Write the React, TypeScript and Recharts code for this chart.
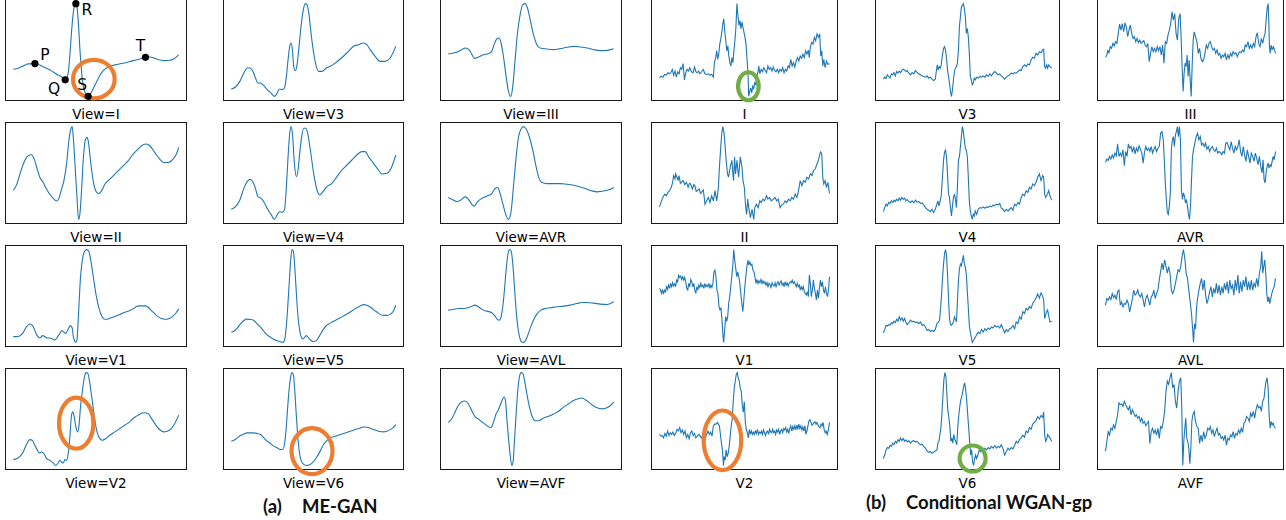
import React from "react";
import { LineChart, Line, XAxis, YAxis, ReferenceDot } from "recharts";

// Each trace: flat list of (time, amplitude) readings, arbitrary units.
const megI = [40,-213, 55,-210, 70,-203, 85,-197, 105,-196, 115,-198, 125,-203, 140,-210, 155,-218, 170,-228, 185,-236, 196,-245, 200,-240, 205,-225, 210,-170, 215,-100, 220,-45, 225,-18, 228,-15, 232,-30, 236,-80, 240,-150, 244,-205, 248,-250, 252,-272, 258,-288, 265,-295, 272,-287, 280,-272, 290,-252, 300,-232, 315,-213, 330,-204, 345,-200, 370,-195, 400,-187, 420,-182, 437,-177, 450,-176, 465,-180, 480,-185, 495,-187, 510,-186, 522,-182, 537,-170];
const megV3 = [692,-268, 705,-262, 718,-245, 730,-220, 740,-205, 748,-205, 757,-215, 765,-235, 772,-250, 780,-250, 790,-258, 800,-270, 810,-278, 822,-290, 830,-280, 837,-268, 845,-270, 852,-265, 858,-230, 863,-180, 868,-140, 872,-130, 876,-150, 880,-200, 885,-213, 890,-195, 896,-140, 902,-80, 908,-35, 915,-12, 920,-15, 926,-45, 932,-100, 940,-160, 948,-200, 955,-215, 965,-215, 978,-205, 990,-200, 1005,-190, 1020,-178, 1040,-160, 1060,-140, 1075,-135, 1090,-130, 1100,-135, 1110,-150, 1125,-170, 1140,-185, 1155,-185, 1170,-175, 1187,-140];
const megIII = [85,-163, 100,-160, 112,-157, 125,-150, 137,-145, 147,-150, 155,-163, 163,-176, 175,-172, 190,-165, 205,-162, 215,-155, 222,-135, 230,-118, 237,-115, 243,-130, 250,-170, 258,-230, 265,-275, 272,-290, 278,-260, 285,-180, 292,-100, 300,-45, 308,-15, 315,-12, 322,-25, 330,-60, 340,-105, 350,-135, 360,-145, 380,-148, 400,-150, 420,-147, 440,-143, 460,-140, 480,-142, 500,-145, 520,-150, 540,-153, 560,-152, 580,-147];
const megII = [40,-568, 50,-552, 60,-520, 72,-485, 85,-465, 95,-462, 103,-475, 112,-505, 120,-530, 130,-545, 140,-565, 150,-580, 160,-592, 170,-600, 178,-590, 185,-565, 192,-540, 200,-490, 207,-420, 213,-385, 217,-378, 221,-420, 226,-500, 232,-600, 236,-655, 240,-640, 245,-570, 250,-480, 256,-420, 261,-410, 266,-425, 272,-480, 280,-540, 288,-570, 297,-578, 305,-570, 315,-550, 330,-535, 345,-520, 365,-500, 385,-480, 400,-460, 415,-445, 430,-432, 440,-430, 450,-435, 465,-455, 480,-475, 492,-485, 505,-485, 520,-475, 530,-460, 537,-440];
const megV4 = [692,-628, 705,-620, 718,-600, 730,-565, 740,-545, 748,-538, 757,-545, 765,-565, 772,-590, 782,-595, 790,-605, 800,-625, 810,-640, 822,-658, 830,-645, 837,-635, 845,-637, 852,-630, 858,-560, 863,-470, 868,-400, 872,-380, 876,-400, 882,-490, 888,-530, 893,-510, 898,-460, 904,-410, 910,-385, 916,-385, 922,-400, 930,-450, 940,-520, 950,-570, 958,-585, 968,-575, 980,-560, 995,-550, 1010,-530, 1025,-510, 1040,-495, 1055,-480, 1070,-465, 1085,-455, 1095,-455, 1105,-470, 1120,-490, 1135,-510, 1145,-522, 1160,-520, 1175,-500, 1187,-465];
const megAVR = [85,-592, 97,-598, 110,-604, 122,-600, 135,-590, 145,-597, 155,-612, 163,-618, 172,-605, 185,-595, 200,-588, 215,-580, 225,-565, 233,-562, 240,-580, 248,-610, 256,-640, 265,-658, 272,-640, 280,-560, 288,-470, 295,-410, 303,-385, 310,-378, 318,-385, 328,-410, 338,-450, 348,-500, 357,-535, 365,-547, 380,-550, 400,-550, 420,-550, 440,-552, 460,-555, 480,-560, 500,-567, 515,-572, 530,-575, 545,-573, 560,-570, 575,-565, 580,-562];
const megV1 = [40,-288, 50,-288, 60,-285, 70,-275, 80,-258, 90,-250, 98,-255, 105,-270, 112,-285, 120,-292, 128,-285, 135,-288, 142,-292, 150,-292, 158,-295, 165,-298, 172,-290, 180,-278, 186,-270, 192,-275, 198,-278, 205,-265, 212,-255, 217,-262, 220,-285, 224,-300, 228,-305, 231,-300, 234,-260, 238,-180, 242,-110, 246,-70, 250,-45, 255,-32, 260,-28, 265,-30, 270,-45, 276,-80, 282,-120, 290,-170, 298,-205, 305,-225, 312,-235, 320,-236, 330,-233, 345,-228, 360,-222, 375,-215, 390,-210, 400,-205, 410,-198, 420,-196, 435,-196, 445,-200, 455,-210, 465,-220, 475,-228, 485,-234, 495,-236, 505,-235, 518,-228, 528,-218, 537,-205];
const megV5 = [692,-275, 700,-272, 710,-263, 720,-250, 730,-240, 740,-236, 750,-237, 760,-240, 770,-250, 780,-260, 790,-272, 800,-283, 810,-290, 820,-296, 830,-300, 840,-303, 847,-305, 852,-300, 857,-265, 862,-200, 867,-120, 871,-60, 875,-30, 879,-35, 883,-80, 888,-160, 893,-230, 898,-270, 903,-290, 908,-295, 913,-290, 918,-285, 925,-292, 933,-300, 940,-303, 948,-300, 958,-285, 968,-268, 978,-255, 990,-248, 1005,-240, 1020,-232, 1035,-224, 1050,-215, 1065,-205, 1080,-197, 1090,-193, 1100,-195, 1110,-200, 1120,-208, 1130,-215, 1140,-222, 1150,-225, 1160,-225, 1170,-222, 1180,-212, 1187,-195];
const megAVL = [85,-210, 100,-208, 115,-205, 130,-205, 145,-203, 155,-198, 165,-195, 175,-200, 185,-207, 195,-212, 205,-214, 215,-218, 225,-228, 232,-238, 238,-240, 243,-230, 248,-200, 253,-150, 258,-90, 263,-45, 268,-28, 273,-32, 278,-70, 283,-140, 288,-210, 293,-260, 298,-290, 304,-305, 310,-307, 316,-302, 322,-288, 330,-265, 340,-240, 350,-222, 362,-210, 375,-205, 390,-203, 410,-200, 430,-198, 450,-195, 470,-190, 485,-187, 500,-187, 520,-189, 540,-192, 560,-193, 575,-188, 580,-185];
const megV2 = [40,-657, 50,-655, 60,-648, 70,-635, 80,-612, 90,-598, 97,-600, 103,-612, 110,-625, 118,-638, 125,-635, 132,-640, 140,-655, 150,-660, 160,-668, 168,-675, 175,-668, 180,-660, 185,-665, 190,-668, 195,-658, 200,-660, 205,-640, 210,-590, 215,-525, 219,-515, 223,-530, 228,-560, 233,-575, 237,-560, 242,-500, 248,-450, 254,-410, 259,-398, 264,-400, 270,-430, 277,-480, 285,-540, 293,-580, 300,-595, 308,-600, 318,-595, 330,-585, 345,-575, 360,-565, 375,-555, 390,-545, 400,-535, 410,-528, 420,-522, 435,-518, 445,-520, 452,-530, 462,-545, 472,-560, 482,-570, 492,-575, 502,-573, 515,-565, 525,-550, 537,-525];
const megV6 = [692,-605, 700,-602, 710,-595, 720,-588, 730,-583, 740,-580, 750,-580, 760,-580, 770,-582, 780,-585, 790,-595, 800,-605, 810,-612, 820,-620, 830,-625, 840,-630, 847,-630, 852,-615, 857,-570, 862,-500, 867,-440, 871,-410, 875,-398, 879,-405, 883,-450, 888,-530, 893,-600, 898,-645, 903,-665, 910,-675, 918,-678, 928,-676, 938,-668, 948,-655, 958,-638, 968,-618, 978,-605, 990,-595, 1005,-590, 1020,-585, 1035,-580, 1050,-575, 1065,-570, 1080,-565, 1090,-562, 1100,-563, 1110,-566, 1120,-570, 1130,-573, 1140,-576, 1150,-577, 1160,-575, 1170,-570, 1180,-563, 1187,-555];
const megAVF = [85,-545, 95,-535, 105,-515, 115,-495, 125,-485, 135,-482, 145,-490, 155,-510, 165,-528, 175,-535, 185,-543, 195,-550, 205,-558, 213,-560, 220,-545, 228,-520, 235,-508, 242,-490, 248,-475, 252,-470, 256,-480, 260,-530, 265,-590, 270,-640, 275,-672, 279,-660, 283,-600, 288,-520, 293,-450, 298,-410, 303,-398, 308,-400, 313,-420, 320,-460, 328,-500, 337,-530, 345,-540, 355,-540, 370,-532, 385,-527, 400,-520, 415,-512, 430,-500, 445,-490, 460,-480, 475,-475, 485,-473, 495,-478, 505,-485, 518,-495, 530,-502, 545,-505, 560,-502, 570,-495, 580,-485];

const wganI = [720,-230, 725,-225, 730,-228, 735,-220, 740,-222, 745,-215, 750,-218, 755,-212, 758,-205, 762,-222, 766,-210, 770,-228, 774,-212, 778,-218, 782,-200, 786,-205, 790,-188, 794,-236, 798,-215, 802,-205, 806,-210, 810,-200, 815,-212, 820,-215, 824,-198, 828,-212, 832,-215, 836,-210, 840,-218, 845,-212, 850,-205, 855,-218, 860,-220, 865,-218, 870,-222, 875,-220, 880,-228, 883,-185, 887,-170, 890,-150, 893,-175, 896,-160, 899,-130, 902,-115, 905,-95, 908,-70, 911,-55, 914,-95, 917,-120, 920,-150, 923,-135, 926,-165, 929,-185, 932,-195, 935,-170, 938,-185, 941,-150, 944,-120, 947,-80, 950,-10, 953,-45, 956,-75, 959,-60, 962,-85, 965,-65, 968,-80, 971,-95, 974,-110, 977,-130, 980,-175, 983,-220, 985,-285, 988,-270, 991,-260, 994,-275, 997,-255, 1000,-262, 1003,-245, 1006,-250, 1009,-225, 1012,-215, 1015,-195, 1018,-218, 1022,-205, 1026,-212, 1030,-200, 1034,-208, 1038,-215, 1042,-195, 1046,-205, 1050,-200, 1054,-210, 1058,-198, 1062,-208, 1066,-212, 1070,-205, 1074,-215, 1078,-205, 1082,-210, 1086,-200, 1090,-215, 1094,-205, 1098,-210, 1102,-195, 1106,-200, 1110,-175, 1114,-195, 1118,-185, 1122,-198, 1126,-180, 1130,-170, 1134,-180, 1138,-165, 1142,-172, 1146,-160, 1150,-170, 1154,-150, 1158,-160, 1162,-148, 1165,-170, 1168,-140, 1172,-125, 1176,-130, 1180,-110, 1184,-120, 1188,-100, 1192,-110, 1196,-100, 1199,-165, 1202,-150, 1205,-195, 1208,-175, 1212,-200, 1216,-180, 1220,-190, 1225,-188];
const wganII = [720,-618, 728,-595, 735,-580, 740,-585, 745,-575, 750,-570, 755,-560, 759,-545, 762,-525, 766,-535, 768,-520, 772,-530, 775,-540, 778,-525, 782,-548, 785,-545, 790,-540, 795,-552, 800,-545, 805,-560, 809,-548, 812,-550, 818,-565, 822,-552, 825,-555, 829,-572, 832,-570, 838,-565, 842,-578, 845,-575, 850,-568, 853,-590, 855,-610, 860,-600, 865,-590, 870,-605, 875,-585, 880,-600, 885,-570, 890,-600, 895,-560, 898,-500, 902,-440, 905,-400, 908,-380, 912,-400, 915,-440, 918,-480, 922,-520, 925,-530, 930,-500, 935,-480, 938,-520, 940,-540, 943,-470, 946,-520, 950,-480, 955,-530, 960,-470, 965,-500, 968,-540, 972,-560, 976,-620, 979,-640, 982,-595, 985,-620, 990,-650, 995,-625, 1000,-655, 1003,-620, 1008,-610, 1013,-620, 1018,-600, 1022,-605, 1027,-595, 1032,-600, 1038,-585, 1042,-595, 1047,-590, 1052,-600, 1058,-595, 1063,-590, 1068,-600, 1073,-595, 1078,-620, 1083,-612, 1088,-610, 1093,-600, 1098,-605, 1103,-595, 1108,-600, 1113,-590, 1118,-595, 1123,-580, 1128,-590, 1133,-570, 1138,-540, 1143,-555, 1148,-540, 1153,-545, 1158,-530, 1163,-535, 1168,-520, 1173,-525, 1178,-510, 1183,-505, 1188,-490, 1192,-480, 1198,-455, 1202,-460, 1205,-530, 1208,-550, 1212,-540, 1216,-560, 1220,-545, 1225,-578];
const wganV1 = [720,-145, 723,-150, 726,-160, 729,-148, 732,-162, 735,-150, 738,-155, 741,-140, 744,-148, 747,-135, 750,-145, 753,-130, 756,-140, 759,-128, 762,-138, 765,-132, 768,-138, 771,-120, 774,-125, 777,-105, 780,-112, 783,-108, 786,-118, 789,-110, 792,-120, 795,-112, 798,-125, 801,-145, 804,-150, 807,-130, 810,-140, 813,-118, 816,-125, 819,-140, 822,-130, 825,-150, 828,-160, 831,-140, 834,-150, 837,-135, 840,-142, 843,-130, 846,-140, 849,-135, 852,-145, 855,-130, 858,-140, 861,-135, 864,-140, 867,-130, 870,-145, 873,-135, 876,-142, 879,-130, 882,-95, 885,-90, 888,-110, 891,-150, 894,-160, 897,-200, 900,-210, 903,-205, 906,-240, 909,-290, 911,-308, 914,-270, 917,-230, 920,-245, 923,-230, 926,-190, 929,-170, 932,-140, 935,-110, 938,-80, 941,-28, 944,-60, 947,-85, 950,-110, 953,-95, 956,-110, 959,-130, 962,-160, 965,-190, 968,-215, 971,-180, 974,-140, 977,-110, 980,-80, 983,-60, 986,-75, 989,-65, 992,-75, 995,-72, 998,-90, 1001,-95, 1004,-110, 1007,-130, 1010,-118, 1013,-130, 1016,-122, 1019,-128, 1022,-118, 1025,-130, 1028,-122, 1031,-130, 1034,-125, 1037,-135, 1040,-128, 1043,-140, 1046,-130, 1049,-135, 1052,-142, 1055,-128, 1058,-135, 1061,-138, 1064,-128, 1067,-140, 1070,-130, 1073,-125, 1076,-135, 1079,-128, 1082,-122, 1085,-135, 1088,-130, 1091,-140, 1094,-125, 1097,-135, 1100,-128, 1103,-138, 1106,-130, 1109,-125, 1112,-128, 1115,-120, 1118,-130, 1121,-125, 1124,-132, 1127,-140, 1130,-130, 1133,-140, 1136,-135, 1139,-150, 1142,-140, 1145,-148, 1148,-140, 1151,-155, 1154,-160, 1157,-165, 1160,-155, 1163,-170, 1166,-105, 1169,-130, 1172,-170, 1175,-150, 1178,-120, 1181,-145, 1184,-160, 1187,-180, 1190,-150, 1193,-175, 1196,-145, 1199,-120, 1202,-140, 1205,-125, 1208,-150, 1211,-160, 1214,-140, 1217,-160, 1220,-170, 1223,-150, 1226,-110];
const wganV2 = [720,-575, 724,-580, 728,-578, 732,-585, 736,-572, 740,-580, 744,-565, 748,-578, 752,-570, 756,-575, 760,-568, 764,-578, 768,-572, 772,-560, 776,-565, 780,-555, 784,-570, 788,-562, 792,-575, 796,-565, 800,-585, 804,-575, 808,-588, 812,-570, 816,-565, 820,-578, 824,-572, 828,-585, 832,-580, 836,-575, 840,-578, 844,-585, 848,-580, 852,-575, 856,-588, 860,-575, 864,-565, 868,-575, 872,-568, 876,-580, 880,-550, 884,-545, 888,-545, 892,-540, 895,-545, 898,-550, 901,-575, 904,-600, 907,-620, 910,-665, 912,-640, 915,-650, 918,-620, 921,-640, 924,-630, 927,-610, 930,-580, 933,-550, 936,-530, 939,-480, 942,-440, 945,-420, 948,-400, 951,-395, 954,-410, 957,-420, 960,-440, 963,-450, 966,-490, 969,-510, 972,-480, 975,-540, 978,-560, 981,-570, 984,-585, 987,-560, 990,-575, 993,-565, 996,-575, 999,-568, 1002,-575, 1005,-565, 1008,-572, 1011,-560, 1014,-575, 1017,-568, 1020,-572, 1023,-565, 1026,-575, 1029,-562, 1032,-570, 1035,-578, 1038,-568, 1041,-565, 1044,-575, 1047,-560, 1050,-568, 1053,-570, 1056,-560, 1059,-570, 1062,-565, 1065,-575, 1068,-562, 1071,-568, 1074,-560, 1077,-575, 1080,-565, 1083,-560, 1086,-570, 1089,-558, 1092,-562, 1095,-555, 1098,-568, 1101,-560, 1104,-572, 1107,-558, 1110,-550, 1113,-565, 1116,-552, 1119,-560, 1122,-550, 1125,-562, 1128,-548, 1131,-560, 1134,-545, 1137,-558, 1140,-550, 1143,-562, 1146,-553, 1149,-565, 1152,-550, 1155,-575, 1158,-565, 1161,-550, 1164,-535, 1167,-532, 1170,-540, 1173,-548, 1176,-545, 1179,-540, 1182,-538, 1185,-545, 1188,-540, 1191,-548, 1194,-552, 1197,-555, 1200,-545, 1203,-550, 1206,-540, 1209,-560, 1212,-570, 1215,-565, 1218,-575, 1221,-565, 1225,-540];
const wganV3 = [68,-238, 72,-232, 76,-236, 80,-225, 84,-230, 88,-235, 92,-222, 96,-225, 100,-218, 104,-228, 108,-215, 112,-220, 116,-214, 120,-218, 124,-212, 128,-208, 132,-210, 136,-215, 140,-212, 145,-220, 150,-225, 155,-218, 160,-222, 165,-212, 170,-218, 175,-222, 180,-225, 185,-228, 190,-230, 195,-232, 200,-228, 205,-235, 210,-232, 215,-238, 220,-242, 225,-238, 228,-215, 231,-195, 234,-210, 237,-200, 240,-205, 243,-195, 246,-170, 250,-145, 253,-140, 256,-150, 259,-175, 262,-210, 265,-230, 268,-250, 271,-275, 274,-290, 277,-270, 280,-240, 283,-215, 286,-205, 289,-200, 292,-190, 295,-150, 298,-80, 301,-50, 304,-20, 307,-15, 310,-10, 313,-25, 316,-50, 319,-100, 322,-85, 325,-110, 328,-160, 331,-230, 334,-240, 337,-255, 340,-250, 343,-235, 346,-240, 350,-232, 355,-235, 360,-230, 365,-232, 370,-228, 375,-232, 380,-225, 385,-230, 390,-222, 395,-228, 400,-220, 405,-215, 410,-220, 415,-225, 420,-222, 425,-228, 430,-232, 435,-238, 440,-232, 445,-228, 450,-225, 455,-220, 460,-222, 465,-218, 470,-220, 475,-215, 480,-210, 485,-212, 490,-200, 495,-195, 500,-200, 505,-192, 510,-195, 515,-180, 520,-172, 525,-175, 530,-160, 535,-165, 540,-155, 545,-158, 550,-150, 553,-148, 556,-200, 559,-205, 562,-195, 565,-205, 568,-195, 572,-200, 577,-205];
const wganV4 = [68,-632, 72,-620, 76,-610, 80,-615, 84,-605, 88,-608, 92,-600, 96,-605, 100,-598, 104,-602, 108,-595, 112,-600, 116,-592, 120,-598, 124,-590, 128,-596, 132,-592, 136,-600, 140,-596, 145,-602, 150,-605, 155,-600, 160,-606, 165,-598, 170,-604, 175,-602, 180,-608, 185,-606, 190,-612, 195,-620, 200,-625, 205,-628, 210,-632, 215,-625, 220,-635, 225,-625, 230,-610, 233,-600, 236,-615, 240,-600, 243,-585, 246,-540, 250,-480, 253,-455, 256,-450, 259,-470, 262,-520, 265,-580, 268,-590, 271,-620, 274,-645, 277,-615, 280,-590, 283,-580, 286,-595, 289,-620, 292,-560, 295,-480, 298,-470, 301,-440, 304,-410, 307,-380, 310,-395, 313,-420, 316,-445, 319,-450, 322,-470, 325,-530, 328,-600, 331,-630, 334,-645, 337,-655, 340,-640, 343,-645, 346,-630, 350,-640, 355,-625, 360,-620, 365,-622, 370,-618, 375,-622, 380,-618, 385,-620, 390,-615, 395,-618, 400,-612, 405,-615, 410,-610, 415,-612, 420,-608, 425,-622, 430,-625, 435,-632, 440,-625, 445,-630, 450,-625, 455,-620, 460,-628, 465,-610, 470,-615, 475,-605, 480,-610, 485,-590, 490,-580, 495,-585, 500,-570, 505,-575, 510,-560, 515,-565, 520,-550, 525,-555, 530,-545, 535,-530, 540,-520, 545,-540, 550,-525, 553,-530, 556,-580, 559,-590, 562,-585, 565,-578, 568,-570, 572,-585, 577,-598];
const wganV5 = [68,-272, 72,-262, 76,-250, 80,-252, 84,-248, 88,-250, 92,-242, 96,-245, 100,-238, 104,-242, 108,-232, 112,-238, 116,-225, 120,-235, 124,-228, 128,-238, 132,-230, 136,-240, 140,-248, 145,-242, 150,-235, 155,-240, 160,-238, 165,-242, 170,-240, 175,-245, 180,-240, 185,-250, 190,-248, 195,-255, 200,-265, 205,-262, 210,-268, 215,-265, 220,-268, 225,-262, 230,-245, 235,-240, 238,-235, 241,-200, 244,-160, 247,-110, 250,-70, 253,-40, 256,-28, 259,-45, 262,-100, 265,-170, 268,-230, 271,-248, 274,-250, 277,-245, 280,-240, 283,-225, 286,-232, 289,-240, 292,-180, 295,-120, 298,-85, 301,-70, 304,-75, 307,-60, 310,-45, 313,-70, 316,-80, 319,-100, 322,-150, 325,-200, 328,-250, 331,-270, 334,-285, 337,-300, 340,-295, 343,-290, 346,-285, 350,-278, 355,-270, 360,-275, 365,-262, 370,-270, 375,-260, 380,-265, 385,-258, 390,-262, 395,-255, 400,-258, 405,-250, 410,-255, 415,-252, 420,-258, 425,-248, 430,-260, 435,-272, 440,-262, 445,-268, 450,-260, 455,-258, 460,-250, 465,-260, 470,-240, 475,-245, 480,-225, 485,-232, 490,-210, 495,-215, 500,-200, 505,-205, 510,-195, 515,-200, 520,-185, 525,-178, 530,-170, 535,-158, 540,-170, 545,-155, 550,-165, 553,-175, 556,-230, 559,-220, 562,-210, 565,-205, 568,-220, 572,-240, 577,-238];
const wganV6 = [68,-650, 72,-640, 76,-625, 80,-618, 84,-620, 88,-612, 92,-615, 96,-605, 100,-610, 104,-600, 108,-605, 112,-595, 116,-600, 120,-590, 124,-598, 128,-592, 132,-600, 136,-596, 140,-602, 145,-598, 150,-605, 155,-600, 160,-598, 165,-602, 170,-600, 175,-605, 180,-610, 185,-608, 190,-615, 195,-620, 200,-628, 205,-632, 210,-630, 215,-635, 220,-632, 225,-628, 230,-625, 233,-605, 236,-600, 239,-580, 242,-560, 245,-520, 248,-470, 251,-420, 254,-400, 257,-410, 260,-460, 263,-510, 266,-530, 269,-555, 272,-600, 275,-590, 278,-605, 281,-580, 284,-595, 287,-600, 290,-610, 293,-560, 296,-525, 299,-500, 302,-480, 305,-470, 308,-455, 311,-440, 314,-430, 317,-450, 320,-480, 323,-520, 326,-560, 329,-600, 332,-640, 335,-625, 338,-660, 341,-670, 344,-650, 347,-640, 350,-650, 354,-640, 358,-625, 362,-630, 366,-618, 370,-625, 375,-620, 380,-625, 385,-618, 390,-622, 395,-615, 400,-620, 405,-612, 410,-620, 415,-615, 420,-618, 425,-610, 430,-622, 435,-640, 440,-630, 445,-620, 450,-625, 455,-618, 460,-622, 465,-612, 470,-600, 475,-605, 480,-595, 485,-590, 490,-582, 495,-588, 500,-570, 505,-575, 510,-560, 515,-565, 520,-550, 525,-545, 530,-540, 535,-528, 540,-535, 545,-525, 550,-530, 553,-515, 556,-580, 559,-600, 562,-595, 565,-580, 568,-585, 572,-590, 577,-600];
const wganIII = [738,-172, 742,-165, 745,-150, 748,-160, 752,-140, 756,-145, 760,-130, 764,-138, 768,-125, 772,-130, 776,-100, 780,-72, 784,-90, 788,-70, 792,-95, 796,-68, 800,-80, 804,-110, 808,-90, 812,-75, 816,-100, 820,-115, 824,-110, 828,-125, 832,-115, 836,-128, 840,-120, 844,-130, 848,-125, 852,-122, 856,-135, 860,-140, 864,-130, 868,-185, 872,-160, 876,-140, 880,-155, 884,-145, 888,-155, 892,-140, 896,-152, 900,-140, 904,-165, 908,-135, 912,-190, 916,-125, 920,-130, 924,-105, 928,-90, 932,-70, 936,-35, 940,-60, 944,-40, 948,-100, 952,-120, 956,-55, 960,-40, 963,-110, 966,-200, 969,-275, 972,-220, 975,-190, 978,-200, 981,-165, 984,-230, 987,-180, 990,-240, 993,-290, 996,-195, 999,-120, 1002,-95, 1006,-110, 1010,-125, 1014,-160, 1018,-145, 1022,-175, 1026,-185, 1030,-180, 1034,-160, 1038,-135, 1042,-145, 1046,-130, 1050,-125, 1054,-140, 1058,-150, 1062,-145, 1066,-160, 1070,-150, 1074,-165, 1078,-160, 1082,-175, 1086,-165, 1090,-170, 1094,-160, 1098,-180, 1102,-165, 1106,-175, 1110,-160, 1114,-168, 1118,-155, 1122,-162, 1126,-158, 1130,-170, 1134,-160, 1138,-155, 1142,-158, 1146,-150, 1150,-155, 1154,-135, 1158,-140, 1162,-125, 1166,-145, 1170,-135, 1174,-145, 1178,-130, 1182,-140, 1186,-110, 1190,-98, 1194,-130, 1198,-140, 1202,-115, 1206,-130, 1210,-110, 1213,-100, 1216,-60, 1219,-25, 1222,-10, 1224,-60, 1226,-140, 1228,-160, 1231,-135, 1234,-148, 1238,-140, 1244,-160];
const wganAVR = [738,-488, 742,-478, 746,-482, 750,-470, 754,-478, 758,-465, 762,-475, 766,-460, 770,-468, 774,-432, 778,-470, 782,-460, 786,-470, 790,-450, 794,-498, 798,-455, 802,-470, 806,-432, 810,-445, 814,-440, 818,-458, 822,-440, 826,-462, 830,-445, 834,-455, 838,-438, 842,-448, 846,-460, 850,-490, 854,-458, 858,-440, 862,-452, 866,-445, 870,-455, 874,-440, 878,-460, 882,-448, 886,-440, 890,-455, 894,-445, 898,-440, 902,-400, 906,-395, 910,-420, 913,-480, 916,-550, 919,-600, 922,-640, 925,-645, 928,-620, 931,-580, 934,-450, 937,-420, 940,-410, 943,-440, 946,-405, 949,-395, 952,-380, 955,-410, 958,-380, 961,-420, 964,-570, 967,-600, 970,-580, 973,-590, 976,-610, 979,-600, 982,-620, 985,-645, 988,-660, 991,-620, 994,-540, 997,-470, 1000,-450, 1004,-430, 1008,-410, 1012,-400, 1016,-420, 1020,-410, 1024,-435, 1028,-430, 1032,-440, 1036,-430, 1040,-448, 1044,-440, 1048,-455, 1052,-445, 1056,-440, 1060,-450, 1064,-455, 1068,-445, 1072,-460, 1076,-455, 1080,-458, 1084,-465, 1088,-455, 1092,-460, 1096,-430, 1100,-428, 1104,-440, 1108,-450, 1112,-425, 1116,-445, 1120,-460, 1124,-440, 1128,-450, 1132,-440, 1136,-420, 1140,-455, 1144,-470, 1148,-440, 1152,-465, 1156,-485, 1160,-450, 1164,-470, 1168,-490, 1172,-460, 1176,-470, 1180,-485, 1184,-460, 1188,-475, 1192,-495, 1196,-470, 1200,-500, 1204,-520, 1207,-480, 1210,-540, 1213,-550, 1216,-520, 1219,-500, 1222,-490, 1225,-505, 1228,-495, 1231,-500, 1234,-485, 1237,-470, 1240,-480, 1244,-455];
const wganAVL = [738,-195, 742,-175, 746,-180, 750,-170, 754,-178, 758,-160, 762,-172, 766,-165, 770,-178, 774,-155, 778,-150, 782,-195, 786,-185, 790,-200, 794,-190, 798,-192, 802,-180, 806,-190, 810,-215, 814,-195, 818,-175, 822,-150, 826,-165, 830,-160, 834,-150, 838,-165, 842,-170, 846,-160, 850,-180, 854,-200, 858,-175, 862,-165, 866,-180, 870,-195, 874,-170, 878,-165, 882,-150, 886,-175, 890,-160, 894,-150, 898,-120, 902,-95, 906,-70, 910,-90, 914,-60, 918,-80, 922,-100, 926,-80, 930,-100, 934,-150, 938,-160, 942,-150, 946,-130, 950,-110, 954,-90, 958,-95, 962,-80, 966,-50, 970,-30, 974,-55, 978,-100, 982,-115, 986,-150, 990,-185, 994,-220, 997,-260, 1000,-305, 1003,-250, 1006,-265, 1009,-200, 1012,-175, 1016,-150, 1020,-130, 1024,-115, 1028,-150, 1032,-120, 1036,-165, 1040,-190, 1044,-175, 1048,-155, 1052,-140, 1056,-170, 1060,-145, 1064,-160, 1068,-130, 1072,-160, 1076,-135, 1080,-165, 1084,-140, 1088,-160, 1092,-130, 1096,-150, 1100,-125, 1104,-160, 1108,-120, 1112,-145, 1116,-135, 1120,-165, 1124,-120, 1128,-150, 1132,-105, 1136,-160, 1140,-125, 1144,-155, 1148,-120, 1152,-140, 1156,-110, 1160,-150, 1164,-125, 1168,-150, 1172,-120, 1176,-150, 1180,-130, 1184,-140, 1188,-115, 1192,-140, 1196,-100, 1200,-80, 1203,-35, 1206,-100, 1209,-80, 1212,-60, 1215,-100, 1218,-160, 1221,-185, 1224,-170, 1227,-190, 1230,-175, 1233,-160, 1236,-150, 1240,-140, 1244,-115];
const wganAVF = [738,-628, 742,-600, 746,-570, 750,-580, 754,-560, 758,-565, 762,-550, 766,-560, 770,-540, 774,-520, 778,-485, 782,-490, 786,-488, 790,-495, 794,-480, 798,-490, 802,-498, 806,-505, 810,-495, 814,-520, 818,-505, 822,-515, 826,-525, 830,-520, 834,-530, 838,-525, 842,-540, 846,-530, 850,-545, 854,-540, 858,-552, 862,-545, 866,-540, 870,-605, 874,-570, 878,-560, 882,-575, 886,-565, 890,-580, 894,-560, 898,-590, 902,-555, 906,-560, 910,-540, 914,-510, 918,-450, 922,-420, 926,-430, 930,-410, 934,-395, 938,-440, 942,-430, 946,-480, 950,-500, 954,-450, 958,-420, 962,-410, 965,-500, 968,-670, 971,-600, 974,-560, 977,-530, 980,-590, 983,-600, 986,-620, 989,-665, 992,-620, 995,-540, 998,-520, 1002,-510, 1006,-540, 1010,-555, 1014,-560, 1018,-605, 1022,-580, 1026,-600, 1030,-570, 1034,-590, 1038,-580, 1042,-560, 1046,-565, 1050,-555, 1054,-575, 1058,-565, 1062,-585, 1066,-570, 1070,-560, 1074,-580, 1078,-575, 1082,-590, 1086,-585, 1090,-595, 1094,-580, 1098,-610, 1102,-590, 1106,-595, 1110,-580, 1114,-585, 1118,-570, 1122,-590, 1126,-575, 1130,-580, 1134,-565, 1138,-575, 1142,-560, 1146,-572, 1150,-545, 1154,-540, 1158,-525, 1162,-530, 1166,-540, 1170,-515, 1174,-525, 1178,-510, 1182,-530, 1186,-505, 1190,-490, 1194,-500, 1198,-495, 1202,-510, 1206,-480, 1210,-470, 1213,-440, 1216,-420, 1219,-410, 1222,-440, 1225,-520, 1228,-560, 1231,-540, 1234,-550, 1237,-545, 1240,-555, 1244,-560];

// wave landmarks on the ME-GAN lead I trace
const waveNames = ["P", "Q", "R", "S", "T"];
const waveTime = [105, 196, 228, 265, 437];
const waveAmp = [-196, -245, -15, -295, -177];

const COLS = [
  { x: 5, w: 182 },
  { x: 223, w: 181 },
  { x: 440, w: 182 },
  { x: 651, w: 187 },
  { x: 875, w: 185 },
  { x: 1097, w: 187 },
];
const ROWS = [-1.5, 122, 245, 368];
const BOX_H = 102;
const PAD = 30;
const BLUE = "#1f77b4";
const ORANGE = "#ED7D31";
const GREEN = "#70AD47";
const FONT = "'DejaVu Sans', sans-serif";
const CAPTION_FONT = "Lato, 'Liberation Sans', sans-serif";

type Ring = { t: number; v: number; rx: number; ry: number; color: string };

const toPoints = (flat: number[]) => {
  const pts: { t: number; v: number }[] = [];
  for (let i = 0; i < flat.length; i += 2) pts.push({ t: flat[i], v: flat[i + 1] });
  return pts;
};

// matplotlib-style autoscale: data range plus 5% on each side
const padded = (vals: number[]): [number, number] => {
  const lo = Math.min(...vals);
  const hi = Math.max(...vals);
  const p = (hi - lo) * 0.05;
  return [lo - p, hi + p];
};

const ringShape = (r: Ring) => (props: any) => (
  <ellipse cx={props.cx} cy={props.cy} rx={r.rx} ry={r.ry} fill="none" stroke={r.color} strokeWidth={4.2} />
);

const labelOffsets = [[10, -9], [-11, 9], [11, 6], [-6, -11], [-5, -11]];

const waveDot = (i: number) => (props: any) => (
  <g>
    <circle cx={props.cx} cy={props.cy} r={3.6} fill="#000" />
    <text
      x={props.cx + labelOffsets[i][0]}
      y={props.cy + labelOffsets[i][1]}
      textAnchor="middle"
      dominantBaseline="central"
      fontFamily={FONT}
      fontSize={15.5}
      fill="#000"
    >
      {waveNames[i]}
    </text>
  </g>
);

interface PanelSpec {
  col: number;
  row: number;
  label: string;
  series: number[];
  smooth: boolean;
  rings?: Ring[];
  waves?: boolean;
}

const panels: PanelSpec[] = [
  { col: 0, row: 0, label: "View=I", series: megI, smooth: true, waves: true, rings: [{ t: 282, v: -243, rx: 20.8, ry: 19.3, color: ORANGE }] },
  { col: 0, row: 1, label: "View=II", series: megII, smooth: true },
  { col: 0, row: 2, label: "View=V1", series: megV1, smooth: true },
  { col: 0, row: 3, label: "View=V2", series: megV2, smooth: true, rings: [{ t: 229, v: -549, rx: 17.2, ry: 25.5, color: ORANGE }] },
  { col: 1, row: 0, label: "View=V3", series: megV3, smooth: true },
  { col: 1, row: 1, label: "View=V4", series: megV4, smooth: true },
  { col: 1, row: 2, label: "View=V5", series: megV5, smooth: true },
  { col: 1, row: 3, label: "View=V6", series: megV6, smooth: true, rings: [{ t: 935, v: -635, rx: 20.5, ry: 23, color: ORANGE }] },
  { col: 2, row: 0, label: "View=III", series: megIII, smooth: true },
  { col: 2, row: 1, label: "View=AVR", series: megAVR, smooth: true },
  { col: 2, row: 2, label: "View=AVL", series: megAVL, smooth: true },
  { col: 2, row: 3, label: "View=AVF", series: megAVF, smooth: true },
  { col: 3, row: 0, label: "I", series: wganI, smooth: false, rings: [{ t: 984, v: -255, rx: 10.3, ry: 14, color: GREEN }] },
  { col: 3, row: 1, label: "II", series: wganII, smooth: false },
  { col: 3, row: 2, label: "V1", series: wganV1, smooth: false },
  { col: 3, row: 3, label: "V2", series: wganV2, smooth: false, rings: [{ t: 907, v: -592, rx: 18.8, ry: 29.8, color: ORANGE }] },
  { col: 4, row: 0, label: "V3", series: wganV3, smooth: false },
  { col: 4, row: 1, label: "V4", series: wganV4, smooth: false },
  { col: 4, row: 2, label: "V5", series: wganV5, smooth: false },
  { col: 4, row: 3, label: "V6", series: wganV6, smooth: false, rings: [{ t: 338, v: -650, rx: 13, ry: 13, color: GREEN }] },
  { col: 5, row: 0, label: "III", series: wganIII, smooth: false },
  { col: 5, row: 1, label: "AVR", series: wganAVR, smooth: false },
  { col: 5, row: 2, label: "AVL", series: wganAVL, smooth: false },
  { col: 5, row: 3, label: "AVF", series: wganAVF, smooth: false },
];

function Frame({ spec }: { spec: PanelSpec }) {
  const { x, w } = COLS[spec.col];
  const top = ROWS[spec.row];
  return (
    <>
      <div
        style={{
          position: "absolute",
          left: x,
          top,
          width: w,
          height: BOX_H,
          border: "1.3px solid #1a1a1a",
          boxSizing: "border-box",
        }}
      />
      <div
        style={{
          position: "absolute",
          left: x - 20,
          top: top + BOX_H + 4,
          width: w + 40,
          textAlign: "center",
          fontFamily: FONT,
          fontSize: 13.5,
          lineHeight: "18px",
          color: "#000",
        }}
      >
        {spec.label}
      </div>
    </>
  );
}

function Trace({ spec }: { spec: PanelSpec }) {
  const { x, w } = COLS[spec.col];
  const top = ROWS[spec.row];
  const data = toPoints(spec.series);
  const xDomain = padded(data.map(d => d.t));
  const yDomain = padded(data.map(d => d.v));
  return (
    <div style={{ position: "absolute", left: x - PAD, top: top - PAD }}>
      <LineChart
        width={w + 2 * PAD}
        height={BOX_H + 2 * PAD}
        data={data}
        margin={{ top: PAD, right: PAD, bottom: PAD, left: PAD }}
      >
        <XAxis type="number" dataKey="t" domain={xDomain} hide allowDataOverflow />
        <YAxis type="number" domain={yDomain} hide allowDataOverflow />
        <Line
          dataKey="v"
          type={spec.smooth ? "monotone" : "linear"}
          stroke={BLUE}
          strokeWidth={1.1}
          dot={false}
          isAnimationActive={false}
        />
        {spec.rings?.map((r, i) => (
          <ReferenceDot key={"r" + i} x={r.t} y={r.v} r={1} ifOverflow="visible" shape={ringShape(r)} />
        ))}
        {spec.waves &&
          waveNames.map((n, i) => (
            <ReferenceDot key={n} x={waveTime[i]} y={waveAmp[i]} r={3.6} ifOverflow="visible" shape={waveDot(i)} />
          ))}
      </LineChart>
    </div>
  );
}

function Caption({ tag, title, x, titleX, y }: { tag: string; title: string; x: number; titleX: number; y: number }) {
  const style: React.CSSProperties = {
    position: "absolute",
    top: y,
    fontFamily: CAPTION_FONT,
    fontWeight: 700,
    fontSize: 18.5,
    lineHeight: "22px",
    whiteSpace: "pre",
    color: "#111",
  };
  return (
    <>
      <div style={{ ...style, left: x }}>{tag}</div>
      <div style={{ ...style, left: titleX }}>{title}</div>
    </>
  );
}

export default function App() {
  return (
    <div
      style={{
        position: "absolute",
        left: 0,
        top: 0,
        width: 1286,
        height: 520,
        background: "#fff",
        overflow: "hidden",
      }}
    >
      {panels.map(p => (
        <Frame key={"f" + p.label + p.col} spec={p} />
      ))}
      {panels.map(p => (
        <Trace key={"t" + p.label + p.col} spec={p} />
      ))}
      <Caption tag="(a)" title="ME-GAN" x={263} titleX={302} y={495} />
      <Caption tag="(b)" title="Conditional WGAN-gp" x={866} titleX={906} y={491} />
    </div>
  );
}
